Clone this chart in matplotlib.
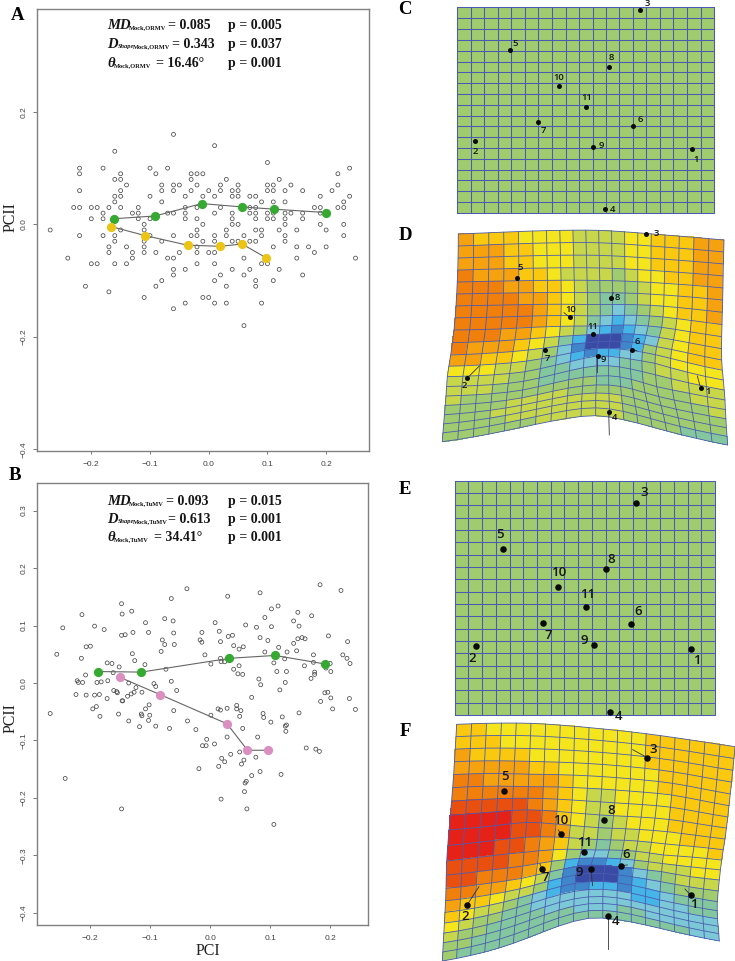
import numpy as np
import matplotlib
matplotlib.use('Agg')
import matplotlib.pyplot as plt
from matplotlib.colors import ListedColormap, BoundaryNorm

W, H = 735, 961

# panel A, points sit on a 0.01 grid: PCII level and the PCI values on it
a_levels = [0.16, 0.14, 0.13, 0.11, 0.10, 0.09, 0.08, 0.07, 0.06, 0.05, 0.04, 0.03, 0.02, 0.01, 0.0,
            -0.01, -0.02, -0.03, -0.04, -0.05, -0.06, -0.07, -0.08, -0.09, -0.10, -0.11, -0.12,
            -0.13, -0.14, -0.15, -0.18]
a_pci = [
    [-.06], [.01], [-.16], [.10],
    [-.22, -.18, -.10, -.07, .24],
    [-.22, -.15, -.09, -.03, -.02, -.01, .22],
    [-.16, -.15, -.03, .03, .12],
    [-.14, -.08, -.06, -.05, -.02, .02, .05, .10, .11, .14, .22],
    [-.22, -.15, -.08, -.06, -.03, 0, .02, .04, .05, .10, .11, .13, .16, .21],
    [-.16, -.15, -.10, -.04, -.01, .01, .04, .05, .07, .08, .19, .24],
    [-.16, -.08, .09, .11, .13, .23],
    [-.23, -.22, -.20, -.19, -.17, -.15, -.12, -.04, -.02, .02, .07, .08, .18, .19, .22, .23],
    [-.18, -.13, -.12, -.07, -.06, -.04, .01, .04, .07, .08, .10, .11, .13, .14, .16, .19],
    [-.20, -.18, -.12, -.10, -.04, -.02, .04, .08, .10, .11, .13, .16],
    [-.11, -.01, .04, .05, .13, .19, .23],
    [-.27, -.15, -.11, -.02, .03, .08, .09, .12, .15, .20],
    [-.22, -.18, -.16, -.10, -.06, -.03, -.02, .01, .03, .06, .09, .13, .23],
    [-.16, -.11, -.08, -.01, .01, .04, .05, .07, .08, .13],
    [-.17, -.14, -.11, -.02, .11, .15, .17, .20],
    [-.17, -.13, -.11, -.09, -.05, -.02, 0, .01, .18],
    [-.24, -.13, -.07, -.06, .06, .15, .25],
    [-.20, -.19, -.16, -.14, -.02, .01, .09, .10],
    [-.06, -.04, .04, .07, .12],
    [-.06, .02, .06, .16],
    [-.08, .01, .08, .11],
    [-.21, -.09, .03, .08],
    [-.17],
    [-.11, -.01, 0],
    [-.04, .01, .03, .09],
    [-.06],
    [.06],
]
a_green_x = [-0.162, -0.091, -0.012, 0.057, 0.112, 0.200]
a_green_y = [0.010, 0.015, 0.037, 0.031, 0.027, 0.021]
a_yellow_x = [-0.166, -0.108, -0.036, 0.019, 0.057, 0.097]
a_yellow_y = [-0.004, -0.020, -0.037, -0.039, -0.035, -0.059]

# panel B
b_pairs = [
    (-.039, .164), (.183, .171), (.218, .161), (.083, .157), (.029, .151), (-.065, .147), (-.148, .138),
    (.113, .134), (.102, .129), (.146, .123), (-.131, .125), (-.147, .120), (-.214, .119), (.169, .117),
    (.091, .114), (-.076, .112), (.139, .108), (-.062, .108), (-.108, .105), (.008, .105), (-.193, .099),
    (-.246, .096), (-.177, .093), (.148, .099), (.102, .098), (.077, .097), (.059, .101), (.015, .090),
    (-.014, .088), (-.103, .088), (-.129, .088), (-.061, .087), (-.142, .084), (-.148, .083), (.037, .083),
    (.030, .081), (.197, .082), (.083, .079), (.146, .077), (.153, .079), (.158, .077), (-.080, .075),
    (-.017, .075), (.096, .074), (.229, .072), (.017, .072), (-.014, .071), (.139, .069), (-.076, .067),
    (-.060, .067), (.039, .065), (.055, .063), (.048, .059), (.114, .062), (-.207, .063), (-.200, .064),
    (-.082, .055), (.091, .054), (.144, .056), (-.130, .051), (.128, .054), (.221, .049), (.172, .049),
    (-.009, .049), (-.256, .050), (-.215, .043), (-.126, .039), (.228, .043), (.017, .043), (.233, .034),
    (.172, .036), (.018, .037), (.024, .037), (-.172, .035), (-.164, .034), (.001, .033), (-.109, .032),
    (-.152, .028), (.157, .030), (.124, .042), (.106, .035), (.048, .030), (-.074, .024), (.039, .024),
    (.193, .026), (.200, .034), (.201, .020), (-.162, .018), (.127, .020), (.111, .020), (.046, .016),
    (.054, .015), (.174, .019), (.174, .015), (-.208, .014), (.168, .008), (-.222, .004), (-.220, .001),
    (-.213, .001), (-.189, .001), (-.182, .002), (-.171, .004), (-.136, .000), (-.065, .003), (-.094, -.001),
    (-.091, -.006), (.081, .007), (.084, -.003), (.125, .001), (.116, -.012), (-.056, -.013), (-.161, -.013),
    (-.155, -.017), (-.156, -.015), (-.124, -.008), (-.127, -.016), (-.132, -.019), (-.138, -.023),
    (-.114, -.016), (.069, -.025), (-.224, -.020), (-.207, -.021), (-.193, -.021), (-.185, -.020),
    (-.172, -.027), (-.147, -.031), (-.146, -.031), (.191, -.017), (.196, -.016), (.201, -.026), (.232, -.027),
    (.184, -.032), (.204, -.045), (.242, -.046), (-.196, -.045), (-.190, -.041), (-.102, -.038), (-.108, -.045),
    (-.061, -.048), (.013, -.045), (.017, -.047), (.028, -.044), (.044, -.039), (.044, -.045), (.051, -.048),
    (.148, -.052), (-.267, -.053), (-.184, -.058), (-.153, -.054), (-.115, -.054), (-.101, -.056), (-.114, -.057),
    (.001, -.056), (.049, -.058), (.088, -.053), (.089, -.060), (.120, -.059), (-.136, -.066), (-.118, -.076),
    (-.091, -.075), (-.068, -.079), (-.038, -.066), (-.024, -.081), (-.103, -.065), (.054, -.079), (.101, -.068),
    (.125, -.075), (.127, -.073), (.126, -.084), (.028, -.094), (.079, -.094), (-.006, -.098), (.007, -.106),
    (-.013, -.109), (-.007, -.109), (.160, -.113), (.176, -.115), (.182, -.119), (.049, -.120), (.034, -.124),
    (.076, -.129), (.019, -.131), (.024, -.137), (.056, -.134), (.052, -.141), (.014, -.145), (-.019, -.149),
    (.118, -.159), (.083, -.154), (.069, -.161), (.060, -.171), (.058, -.174), (-.242, -.166), (.057, -.189),
    (.018, -.202), (-.148, -.219), (.061, -.219), (.106, -.246),
]
b_green_x = [-0.188, -0.115, 0.032, 0.108, 0.192]
b_green_y = [0.020, 0.019, 0.043, 0.048, 0.033]
b_pink_x = [-0.151, -0.084, 0.028, 0.062, 0.096]
b_pink_y = [0.010, -0.020, -0.071, -0.117, -0.117]

# straight grids, line positions in zoomed reading units
c_cols = [52, 92, 133, 173, 214, 254, 295, 336, 377, 417, 458, 497, 538, 578, 619, 660, 700, 741, 782, 822]
c_rows = [22, 55, 88, 121, 153, 185, 217, 250, 283, 315, 347, 379, 412, 445, 478, 509, 541, 574, 607, 638]
e_cols = [44, 85, 127, 168, 209, 250, 291, 332, 373, 415, 455, 497, 538, 578, 619, 660, 702, 743, 784, 826]
e_rows = [32, 69, 106, 143, 180, 217, 254, 291, 328, 365, 402, 439, 476, 513, 550, 587, 624, 661, 698, 735]

# landmarks 1..11
c_mark_x = [756, 105, 601, 495, 209, 580, 295, 508, 458, 357, 439]
c_mark_y = [448, 422, 29, 627, 151, 377, 365, 200, 440, 258, 322]
c_text_x = [768, 105, 622, 518, 226, 600, 310, 515, 483, 356, 439]
c_text_y = [480, 455, 10, 627, 132, 360, 392, 173, 438, 232, 292]
e_mark_x = [752, 107, 588, 510, 189, 572, 308, 499, 463, 355, 438]
e_mark_y = [537, 528, 100, 726, 238, 463, 460, 296, 525, 351, 412]
e_text_x = [770, 97, 614, 537, 180, 595, 324, 515, 432, 357, 442]
e_text_y = [570, 566, 68, 738, 195, 424, 497, 268, 512, 308, 372]
d_mark_x = [812, 112, 647, 536, 261, 607, 346, 542, 503, 419, 490]
d_mark_y = [504, 474, 41, 577, 175, 391, 389, 235, 408, 292, 343]
d_text_x = [834, 102, 679, 555, 270, 622, 351, 563, 519, 421, 489]
d_text_y = [516, 498, 41, 592, 142, 366, 416, 234, 418, 267, 320]
d_tail_x = [802, 148, 647, 538, 261, 620, 346, 550, 502, 402, 490]
d_tail_y = [468, 438, 41, 645, 175, 392, 389, 218, 458, 278, 343]
f_mark_x = [782, 111, 652, 533, 222, 574, 336, 521, 482, 393, 463]
f_mark_y = [541, 570, 128, 603, 228, 452, 462, 314, 462, 358, 411]
f_text_x = [791, 107, 670, 557, 225, 589, 345, 543, 449, 391, 464]
f_text_y = [570, 605, 103, 620, 186, 420, 488, 287, 474, 317, 382]
f_tail_x = [765, 147, 608, 533, 222, 592, 330, 521, 488, 385, 463]
f_tail_y = [522, 515, 104, 703, 228, 450, 447, 314, 512, 345, 411]

warp_cols = [0, 5, 10, 15, 19]
d_warp_rows = [0, 5, 8, 10, 12, 14, 19]
d_warp_x = [[85, 308, 506, 705, 882],
            [80, 310, 510, 702, 878],
            [72, 305, 510, 695, 875],
            [62, 295, 505, 680, 875],
            [52, 285, 500, 675, 880],
            [48, 278, 500, 680, 885],
            [37, 270, 497, 710, 893]]
d_warp_y = [[42, 33, 31, 45, 60],
            [222, 218, 218, 225, 240],
            [330, 322, 318, 322, 350],
            [405, 390, 365, 380, 420],
            [470, 455, 408, 430, 480],
            [528, 510, 468, 500, 540],
            [665, 623, 587, 633, 675]]
f_warp_rows = [0, 5, 8, 10, 12, 14, 19]
f_warp_x = [[80, 303, 520, 735, 915],
            [68, 295, 515, 725, 897],
            [57, 290, 505, 712, 885],
            [50, 282, 497, 700, 875],
            [48, 275, 483, 695, 868],
            [45, 265, 478, 690, 862],
            [37, 250, 475, 690, 868]]
f_warp_y = [[28, 25, 42, 68, 95],
            [218, 215, 222, 240, 272],
            [345, 322, 338, 350, 372],
            [438, 412, 405, 420, 435],
            [520, 490, 450, 470, 495],
            [592, 550, 500, 530, 560],
            [738, 685, 610, 640, 678]]

# cell colour class, one string per grid row
heat_colors = ['#3A4BA6', '#3F86CB', '#45B5E8', '#7CC8D6', '#84C79E', '#A0CB6E', '#C8D64A',
               '#F5E51C', '#FAC80F', '#F6A20F', '#F07F0B', '#E9500F', '#E62117']
d_cells = ['9888777766667788899', '9998877766667788899', '9998877766667788899', 'a99988766665677 8899'.replace(' ', ''),
           'aaa9988765555677889', 'aaaa998765445677889', 'aaaaa98765434567889', 'aaaaa98764323456788',
           'aaa9987653212346788', 'a9998764200012346788'[:8] + '2000123' + '46788'[1:], '9988765310001256788', '7776654321223356777',
           '6666554433334456677', '6665554444444455666', '6555555555444555566', '5555666655555555556',
           '5556666666665555555', '5555666666665555555', '5555556666665555444']
f_cells = ['8877777777777888888', '8887777777777888888', '9888877777777888888', '9999988777777788888',
           'aa99999877777788888', 'aaaaaa9876677778888', 'bbbbba9876677778888', 'ccccbba876567778888',
           'ccccbba966566777888', 'cccbba9865456677778', 'bbbbaa9753345667777', 'bbaaa98521123566677',
           'aa99876410001345666', '9887665210001234555', '8766543211221223444', '7655443333333223344',
           '6554444333333333333', '5544444443334433333', '5444444444444444433']

stat_lines_a = [('MD', '', 'Mock,ORMV', '= 0.085', 'p = 0.005'),
                ('D', 'Shape', 'Mock,ORMV', '= 0.343', 'p = 0.037'),
                ('\u03b8', '', 'Mock,ORMV', '= 16.46\u00b0', 'p = 0.001')]
stat_lines_b = [('MD', '', 'Mock,TuMV', '= 0.093', 'p = 0.015'),
                ('D', 'Shape', 'Mock,TuMV', '= 0.613', 'p = 0.001'),
                ('\u03b8', '', 'Mock,TuMV', '= 34.41\u00b0', 'p = 0.001')]

SERIF = 'Liberation Serif'
SANS = 'Liberation Sans'
fig = plt.figure(figsize=(W / 100, H / 100), dpi=100, facecolor='white')


def px_axes(x0, y0, x1, y1):
    return fig.add_axes([x0 / W, 1 - y1 / H, (x1 - x0) / W, (y1 - y0) / H])


def style_scatter(ax, xticks, yticks, xlim, ylim):
    ax.set_xlim(*xlim)
    ax.set_ylim(*ylim)
    ax.set_xticks(xticks)
    ax.set_yticks(yticks)
    ax.set_xticklabels([f'{t:.1f}'.replace('-', '\u2212') for t in xticks], family=SANS, fontsize=6, color='#444444')
    ax.set_yticklabels([f'{t:.1f}'.replace('-', '\u2212') for t in yticks], family=SANS, fontsize=6, color='#444444',
                       rotation=90, va='center')
    ax.tick_params(axis='x', length=2.2, width=0.7, color='#777777', pad=5)
    ax.tick_params(axis='y', length=3, width=0.7, color='#777777', pad=4)
    for s in ax.spines.values():
        s.set_color('#808080')
        s.set_linewidth(1.0)


def scatter_panel(ax, x, y, x1, y1, c1, x2, y2, c2):
    ax.scatter(x, y, s=8, facecolors='none', edgecolors='#4a4a4a', linewidths=0.55, zorder=2)
    for lx, ly, col in ((x1, y1, c1), (x2, y2, c2)):
        ax.plot(lx, ly, color='#666666', lw=0.8, zorder=3)
        ax.scatter(lx, ly, s=44, color=col, linewidths=0, zorder=4)


ax_a = px_axes(37, 9, 369, 451)
a_x = [v for row in a_pci for v in row]
a_y = [lev for lev, row in zip(a_levels, a_pci) for v in row]
scatter_panel(ax_a, a_x, a_y, a_green_x, a_green_y, '#36A933', a_yellow_x, a_yellow_y, '#EBC415')
style_scatter(ax_a, [-0.2, -0.1, 0.0, 0.1, 0.2], [-0.4, -0.2, 0.0, 0.2], (-0.2925, 0.273), (-0.403, 0.383))

ax_b = px_axes(37, 483, 368, 925)
b_x = [p[0] for p in b_pairs]
b_y = [p[1] for p in b_pairs]
scatter_panel(ax_b, b_x, b_y, b_green_x, b_green_y, '#36A933', b_pink_x, b_pink_y, '#DB8FC0')
style_scatter(ax_b, [-0.2, -0.1, 0.0, 0.1, 0.2], [-0.4, -0.3, -0.2, -0.1, 0.0, 0.1, 0.2, 0.3],
              (-0.289, 0.263), (-0.421, 0.348))


def tps_warp(cols, rows, warp_x, warp_y):
    # thin plate spline through the control nodes, evaluated on every grid node
    cc, rr = np.meshgrid(np.array(cols, float), np.array(rows, float))
    src = np.c_[cc.ravel(), rr.ravel()]
    dst = np.c_[np.array(warp_x, float).ravel(), np.array(warp_y, float).ravel()]

    def kernel(a, b):
        d2 = ((a[:, None, :] - b[None, :, :]) ** 2).sum(axis=2)
        return np.where(d2 > 0, 0.5 * d2 * np.log(np.maximum(d2, 1e-12)), 0.0)

    n = len(src)
    P = np.c_[np.ones(n), src]
    A = np.zeros((n + 3, n + 3))
    A[:n, :n] = kernel(src, src)
    A[:n, n:] = P
    A[n:, :n] = P.T
    b = np.zeros((n + 3, 2))
    b[:n] = dst
    w = np.linalg.solve(A, b)
    gc, gr = np.meshgrid(np.arange(20.0), np.arange(20.0))
    q = np.c_[gc.ravel(), gr.ravel()]
    out = kernel(q, src) @ w[:n] + np.c_[np.ones(len(q)), q] @ w[n:]
    return out[:, 0].reshape(20, 20), out[:, 1].reshape(20, 20)


def draw_mesh(ax, X, Y, levels, lw):
    cmap = ListedColormap(heat_colors)
    ax.pcolormesh(X, Y, levels, cmap=cmap, norm=BoundaryNorm(np.arange(14) - 0.5, 13), shading='flat', zorder=1)
    line = '#4a5cb2'
    ax.plot(X, Y, color=line, lw=lw, zorder=2, solid_capstyle='round')
    ax.plot(X.T, Y.T, color=line, lw=lw, zorder=2, solid_capstyle='round')


def landmarks(ax, mx, my, tx, ty, size, fs, tail_x=None, tail_y=None):
    if tail_x is not None:
        for a, b, c, d in zip(mx, tail_x, my, tail_y):
            ax.plot([a, b], [c, d], color='#333333', lw=0.6, zorder=3)
    ax.scatter(mx, my, s=size, color='#0a0a0a', linewidths=0, zorder=4, clip_on=False)
    for i, (a, b) in enumerate(zip(tx, ty)):
        ax.text(a, b, str(i + 1), ha='center', va='center', fontsize=fs, family='Open Sans', weight='semibold',
                color='#151515', zorder=5, clip_on=False)


def level_matrix(rows):
    return np.array([[int(ch, 16) for ch in r] for r in rows])


def reading_axes(x0, y0, w, h):
    # reading units are 3x screen pixels, same as the zoomed crops
    ax = px_axes(x0, y0, x0 + w, y0 + h)
    ax.set_xlim(0, w * 3)
    ax.set_ylim(h * 3, 0)
    ax.axis('off')
    return ax


ax_c = reading_axes(440, 0, 290, 220)
X, Y = np.meshgrid(c_cols, c_rows)
draw_mesh(ax_c, X, Y, np.full((19, 19), 5), 0.75)
landmarks(ax_c, c_mark_x, c_mark_y, c_text_x, c_text_y, 13, 6.8)

ax_e = reading_axes(440, 470, 290, 250)
X, Y = np.meshgrid(e_cols, e_rows)
draw_mesh(ax_e, X, Y, np.full((19, 19), 5), 0.75)
landmarks(ax_e, e_mark_x, e_mark_y, e_text_x, e_text_y, 22, 9.5)

ax_d = reading_axes(430, 220, 305, 230)
X, Y = tps_warp(warp_cols, d_warp_rows, d_warp_x, d_warp_y)
draw_mesh(ax_d, X, Y, level_matrix(d_cells), 0.6)
landmarks(ax_d, d_mark_x, d_mark_y, d_text_x, d_text_y, 13, 6.8, d_tail_x, d_tail_y)

ax_f = reading_axes(430, 715, 305, 246)
X, Y = tps_warp(warp_cols, f_warp_rows, f_warp_x, f_warp_y)
draw_mesh(ax_f, X, Y, level_matrix(f_cells), 0.6)
landmarks(ax_f, f_mark_x, f_mark_y, f_text_x, f_text_y, 22, 9.5, f_tail_x, f_tail_y)

# overlay in screen pixels for letters, statistics and axis names
ov = px_axes(0, 0, W, H)
ov.set_xlim(0, W)
ov.set_ylim(H, 0)
ov.axis('off')
ov.patch.set_alpha(0)


def stat_row(y, line, x_sub, x_eq, x_p):
    head, shape, sub, eq, p = line
    ser = dict(family=SERIF, color='#151515', va='baseline', ha='left')
    ov.text(107, y, head, fontsize=10.5, style='italic', weight='bold', **ser)
    x = x_sub
    if shape:
        ov.text(x, y, shape, fontsize=4.6, style='italic', weight='bold', **ser)
        x += 15
    ov.text(x, y, sub, fontsize=4.6, weight='bold', **ser)
    ov.text(x_eq, y, eq, fontsize=10, weight='bold', **ser)
    ov.text(x_p, y, p, fontsize=10, weight='bold', **ser)


for k, (y, xs, xe) in enumerate(zip([29, 48, 67.3], [129, 118, 114], [168, 172, 156])):
    stat_row(y, stat_lines_a[k], xs, xe, 228)
for k, (y, xs, xe) in enumerate(zip([505, 522.7, 540.7], [129, 118, 114], [166, 168, 154])):
    stat_row(y, stat_lines_b[k], xs, xe, 228)

for s, x, y in (('A', 18, 15), ('B', 15, 476), ('C', 405, 10), ('D', 405, 236), ('E', 405, 490), ('F', 405, 731)):
    ov.text(x, y, s, family=SERIF, weight='bold', fontsize=13.5, color='black', ha='center', va='center')

ov.text(11, 217, 'PCII', family=SERIF, fontsize=11.5, rotation=90, ha='center', va='center', color='#222222')
ov.text(11, 718, 'PCII', family=SERIF, fontsize=11.5, rotation=90, ha='center', va='center', color='#222222')
ov.text(208, 955, 'PCI', family=SERIF, fontsize=11.5, ha='center', va='baseline', color='#222222')

fig.savefig('out.png', dpi=100)
